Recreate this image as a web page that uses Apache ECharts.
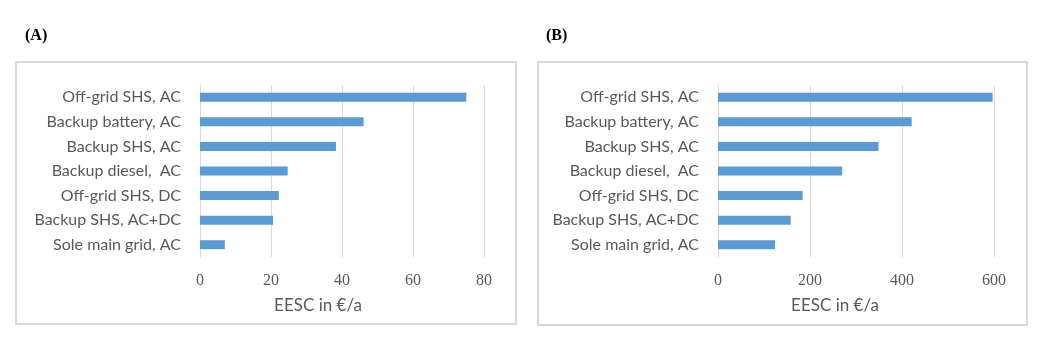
<!DOCTYPE html>
<html>
<head>
<meta charset="utf-8">
<script src="https://cdn.jsdelivr.net/npm/echarts@6/dist/echarts.min.js"></script>
<style>html,body{margin:0;padding:0;background:#fff;}#c{width:1043px;height:360px;}</style>
</head>
<body>
<div id="c"></div>
<script>
const categories = ['Off-grid SHS, AC','Backup battery, AC','Backup SHS, AC','Backup diesel,  AC','Off-grid SHS, DC','Backup SHS, AC+DC','Sole main grid, AC'];
const valuesA = [75, 46.1, 38.3, 24.7, 22.2, 20.6, 7];
const valuesB = [597, 421, 349, 270, 184, 158, 124];
const panelTitles = ['(A)', '(B)'];
const axisTitle = 'EESC in €/a';

const chart = echarts.init(document.getElementById('c'), null, {renderer:'canvas'});
const catFont = {fontFamily:'Lato', fontSize:16, color:'#595959'};
const tickFont = {fontFamily:'Liberation Serif', fontSize:16, color:'#595959'};
function yAx(i){return {type:'category', gridIndex:i, data:categories, inverse:true,
  axisLine:{show:true, lineStyle:{color:'#D9D9D9'}}, axisTick:{show:false},
  axisLabel:Object.assign({margin:19}, catFont)};}
function xAx(i,max,intv){return {type:'value', gridIndex:i, min:0, max:max, interval:intv,
  axisLine:{show:false}, axisTick:{show:false},
  splitLine:{lineStyle:{color:'#D9D9D9', width:1}},
  axisLabel:Object.assign({margin:16}, tickFont)};}
chart.setOption({
  animation:false,
  grid:[{left:200, right:559, top:85, bottom:103},{left:718, right:49, top:85, bottom:103}],
  xAxis:[xAx(0,80,20), xAx(1,600,200)],
  yAxis:[yAx(0), yAx(1)],
  series:[
    {type:'bar', xAxisIndex:0, yAxisIndex:0, data:valuesA, barWidth:9, itemStyle:{color:'#5B9BD5'}},
    {type:'bar', xAxisIndex:1, yAxisIndex:1, data:valuesB, barWidth:9, itemStyle:{color:'#5B9BD5'}}
  ],
  graphic:[
    {type:'rect', shape:{x:16, y:62, width:500, height:262}, style:{fill:'none', stroke:'#D9D9D9', lineWidth:2}, silent:true},
    {type:'rect', shape:{x:538, y:62, width:489, height:263}, style:{fill:'none', stroke:'#D9D9D9', lineWidth:2}, silent:true},
    {type:'text', left:25, top:28, style:{text:panelTitles[0], font:'bold 16px "Liberation Serif"', fill:'#000'}},
    {type:'text', left:546, top:28, style:{text:panelTitles[1], font:'bold 16px "Liberation Serif"', fill:'#000'}},
    {type:'text', x:318, y:306, style:{text:axisTitle, font:'17px Lato', fill:'#595959', align:'center', verticalAlign:'middle'}},
    {type:'text', x:835, y:306, style:{text:axisTitle, font:'17px Lato', fill:'#595959', align:'center', verticalAlign:'middle'}}
  ]
});
</script>
</body>
</html>
